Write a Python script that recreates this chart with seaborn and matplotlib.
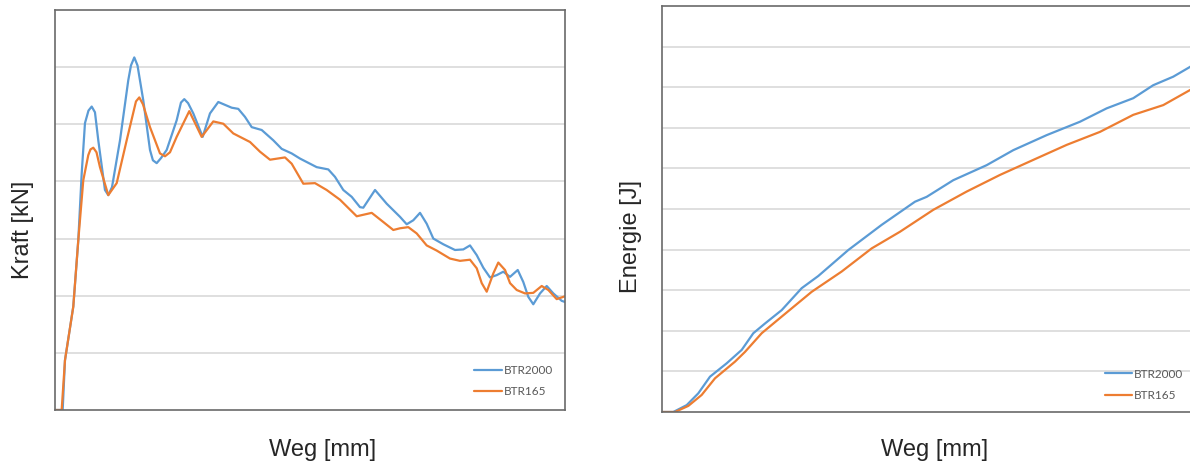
import numpy as np
import pandas as pd
import matplotlib
matplotlib.use("Agg")
import matplotlib.pyplot as plt
import seaborn as sns

# Kraft-Weg (left panel)
weg_kraft_btr2000 = [0, 1.51, 1.96, 3.59, 4.57, 5.24, 5.88, 6.57, 7.20, 7.84, 8.49, 9.80, 10.45,
                     11.18, 12.75, 14.37, 14.90, 15.55, 16.18, 17.31, 18.63, 19.20, 19.94, 20.80,
                     21.90, 23.86, 24.70, 25.35, 26.10, 27.12, 28.96, 30.39, 32.02, 34.65,
                     35.94, 37.25, 38.57, 40.53, 42.80, 44.45, 46.41, 48.04, 51.31, 53.59, 54.90,
                     56.53, 58.18, 59.80, 60.45, 62.75, 65.04, 67.65, 68.96, 70.25, 71.57, 72.88,
                     74.18, 76.14, 78.43, 80.06, 81.37, 82.69, 83.98, 85.29, 86.61, 87.90, 89.22,
                     90.73, 91.82, 92.80, 93.78, 95.10, 96.41, 97.71, 99.35, 100]
kraft_btr2000 = [0, 0, 0.87, 1.81, 2.97, 4.14, 5.02, 5.24, 5.31, 5.21, 4.72, 3.85, 3.76,
                 3.90, 4.72, 5.77, 6.03, 6.17, 6.03, 5.42, 4.55, 4.37, 4.32, 4.41,
                 4.55, 5.07, 5.38, 5.44, 5.37, 5.19, 4.78, 5.19, 5.39, 5.29,
                 5.27, 5.13, 4.95, 4.90, 4.72, 4.57, 4.49, 4.40, 4.25, 4.21, 4.08,
                 3.85, 3.73, 3.55, 3.54, 3.85, 3.61, 3.38, 3.25, 3.32, 3.45, 3.26,
                 3.00, 2.90, 2.80, 2.81, 2.88, 2.71, 2.49, 2.32, 2.36, 2.42, 2.33,
                 2.45, 2.24, 1.98, 1.85, 2.04, 2.17, 2.04, 1.91, 1.89]

weg_kraft_btr165 = [0, 1.31, 1.96, 3.59, 4.57, 5.55, 6.53, 6.96, 7.51, 8.14, 8.82, 10.45, 12.10,
                    14.06, 15.88, 16.53, 17.25, 18.63, 20.59, 21.57, 22.55, 23.86, 26.33, 28.76,
                    31.04, 33.0, 34.96, 38.24, 40.2, 42.16,
                    45.1, 46.41, 48.69, 50.98, 53.27, 55.88, 59.16, 62.10, 64.37, 66.33, 67.65,
                    69.27, 70.92, 72.88, 74.84, 77.45, 79.41, 81.37, 82.69, 83.67, 84.65, 85.94,
                    86.92, 88.24, 89.22, 90.53, 92.16, 93.78, 95.43, 96.73, 98.37, 99.35, 100]
kraft_btr165 = [0, 0, 0.87, 1.81, 2.97, 4.02, 4.46, 4.56, 4.59, 4.51, 4.25, 3.76, 3.97,
                4.72, 5.40, 5.47, 5.35, 4.95, 4.49, 4.44, 4.51, 4.78, 5.23, 4.78,
                5.05, 5.01, 4.84, 4.69, 4.52, 4.38,
                4.42, 4.31, 3.96, 3.97, 3.85, 3.68, 3.39, 3.45, 3.29, 3.15, 3.18,
                3.20, 3.09, 2.88, 2.79, 2.65, 2.61, 2.63, 2.48, 2.22, 2.07, 2.39,
                2.58, 2.45, 2.22, 2.10, 2.04, 2.05, 2.17, 2.10, 1.94, 1.97, 1.99]

# Energie-Weg (right panel)
weg_energie_btr2000 = [0, 2.12, 4.63, 6.80, 8.99, 12.12, 14.93, 17.10, 19.29, 22.42, 26.16, 29.27,
                       34.89, 41.14, 47.38, 49.57, 54.55, 60.80, 65.79, 72.04, 78.28, 83.28,
                       88.26, 92.0, 95.75, 98.88, 100]
energie_btr2000 = [0, 0, 0.17, 0.46, 0.87, 1.20, 1.53, 1.94, 2.18, 2.51, 3.05, 3.35,
                   3.99, 4.61, 5.18, 5.30, 5.71, 6.08, 6.45, 6.82, 7.15, 7.48,
                   7.73, 8.05, 8.26, 8.50, 8.60]

weg_energie_btr165 = [0, 2.43, 4.93, 7.43, 9.93, 13.67, 15.54, 18.67, 22.42, 28.03, 33.65, 39.27,
                      44.57, 50.81, 57.06, 63.30, 69.53, 75.79, 82.02, 88.26, 93.88, 98.88, 100]
energie_btr165 = [0, 0, 0.15, 0.42, 0.83, 1.24, 1.48, 1.94, 2.35, 2.96, 3.46, 4.03,
                  4.44, 4.98, 5.43, 5.84, 6.21, 6.58, 6.90, 7.32, 7.56, 7.93, 8.00]

series = ["BTR2000", "BTR165"]
colors = {"BTR2000": "#5B9BD5", "BTR165": "#ED7D31"}

kraft_df = pd.concat([
    pd.DataFrame({"Weg": weg_kraft_btr2000, "Wert": kraft_btr2000, "Serie": "BTR2000"}),
    pd.DataFrame({"Weg": weg_kraft_btr165, "Wert": kraft_btr165, "Serie": "BTR165"}),
], ignore_index=True)
energie_df = pd.concat([
    pd.DataFrame({"Weg": weg_energie_btr2000, "Wert": energie_btr2000, "Serie": "BTR2000"}),
    pd.DataFrame({"Weg": weg_energie_btr165, "Wert": energie_btr165, "Serie": "BTR165"}),
], ignore_index=True)

sns.set_style("white")
plt.rcParams["font.family"] = ["Liberation Sans", "DejaVu Sans"]

fig = plt.figure(figsize=(11.9, 4.65), dpi=100)
ax1 = fig.add_axes([0.0462, 0.1183, 0.4286, 0.8602])
ax2 = fig.add_axes([0.5563, 0.114, 0.4487, 0.873])


def style_panel(ax, df, ymax, ylabel, ylab_pos, xlab_pos, leg_anchor):
    sns.lineplot(data=df, x="Weg", y="Wert", hue="Serie", hue_order=series,
                 palette=colors, estimator=None, sort=False, linewidth=1.6, ax=ax)
    ax.set_xlim(0, 100)
    ax.set_ylim(0, ymax)
    ax.set_yticks(range(1, ymax))
    ax.set_xticks([])
    ax.tick_params(left=False, bottom=False, labelleft=False, labelbottom=False)
    ax.grid(axis="y", color="#d9d9d9", linewidth=1.2)
    ax.set_axisbelow(True)
    for sp in ax.spines.values():
        sp.set_color("#6a6a6a")
        sp.set_linewidth(1.2)
    ax.set_xlabel("Weg [mm]", fontsize=17, va="center")
    ax.set_ylabel(ylabel, fontsize=17, va="center")
    ax.xaxis.set_label_coords(*xlab_pos)
    ax.yaxis.set_label_coords(*ylab_pos)
    leg = ax.legend(loc="lower right", bbox_to_anchor=leg_anchor, frameon=False,
                    fontsize=8.5, handlelength=2.3, handletextpad=0.15,
                    labelspacing=0.9, borderaxespad=0)
    for t in leg.get_texts():
        t.set_color("#595959")
        t.set_family(["Lato", "DejaVu Sans"])


style_panel(ax1, kraft_df, 7, "Kraft [kN]", (-0.062, 0.45), (0.524, -0.1), (0.985, 0.02))
style_panel(ax2, energie_df, 10, "Energie [J]", (-0.058, 0.433), (0.511, -0.094), (0.985, 0.015))

fig.savefig("out.png", dpi=100)
